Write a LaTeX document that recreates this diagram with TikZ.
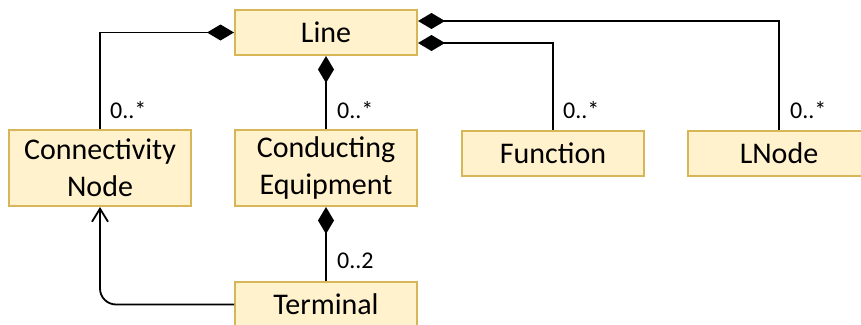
\documentclass[tikz,border=0pt]{standalone}
\usepackage{fontspec}
\setmainfont{Carlito}
\usetikzlibrary{arrows.meta}
\definecolor{boxfill}{HTML}{FFF2CC}
\definecolor{boxline}{HTML}{D6B656}
\tikzset{
  cls/.style={draw=boxline, fill=boxfill, line width=2pt, minimum width=182pt, align=center, inner sep=0pt, font=\fontsize{30}{37}\selectfont},
  onerow/.style={minimum height=45pt},
  tworow/.style={minimum height=76pt},
  conn/.style={line width=1.8pt, black},
  comp/.style={conn, {Diamond[length=27pt,width=16pt]}-},
  nav/.style={conn, -{Straight Barb[length=13pt,width=16pt,line width=1.8pt]}, rounded corners=16pt},
  mult/.style={anchor=base west, inner sep=0pt, font=\fontsize{24}{28}\selectfont}
}
\begin{document}
\begin{tikzpicture}[x=1pt,y=-1pt]
\useasboundingbox (0,0) rectangle (861,324);
\clip (0,0) rectangle (861,324);
\node[cls,onerow] (line) at (326,32.5) {Line};
\node[cls,tworow] (cn) at (100,168) {Connectivity\\Node};
\node[cls,tworow] (ce) at (326,168) {Conducting\\Equipment};
\node[cls,onerow] (fn) at (553,153) {Function};
\node[cls,onerow] (ln) at (779,153) {LNode};
\node[cls,onerow] (term) at (326,304.5) {Terminal};
\draw[comp] (line.west) -| (cn.north);
\draw[comp] (line.south) -- (ce.north);
\draw[comp] ([yshift=11.5pt]line.east) -| (ln.north);
\draw[comp] ([yshift=-10.5pt]line.east) -| (fn.north);
\draw[comp] (ce.south) -- (term.north);
\draw[nav] (term.west) -| (cn.south);
\node[mult] (m1) at (110,118) {0..*};
\node[mult] (m2) at (337,118) {0..*};
\node[mult] (m3) at (563,118) {0..*};
\node[mult] (m4) at (790,118) {0..*};
\node[mult] (m5) at (337,268) {0..2};
\end{tikzpicture}
\end{document}
